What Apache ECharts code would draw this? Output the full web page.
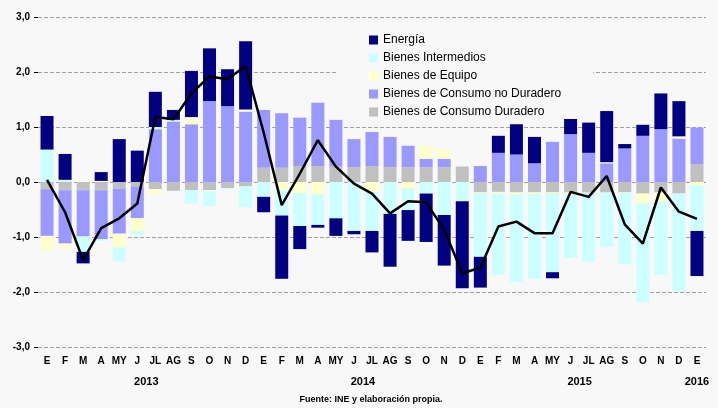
<!DOCTYPE html>
<html>
<head>
<meta charset="utf-8">
<script src="https://cdn.jsdelivr.net/npm/echarts@6/dist/echarts.min.js"></script>
<style>
  html, body { margin: 0; padding: 0; background: #f8f8f8; }
  #chart { width: 718px; height: 408px; }
</style>
</head>
<body>
<div id="chart"></div>
<script>
// meses ene-2013 .. ene-2016
const months = [
  'E', 'F', 'M', 'A', 'MY', 'J', 'JL', 'AG', 'S', 'O', 'N', 'D',
  'E', 'F', 'M', 'A', 'MY', 'J', 'JL', 'AG', 'S', 'O', 'N', 'D',
  'E', 'F', 'M', 'A', 'MY', 'J', 'JL', 'AG', 'S', 'O', 'N', 'D',
  'E',
]
const years = ['2013', '2014', '2015', '2016']
const yTicks = { min: -3, max: 3, interval: 1 }

const energia = [
  0.61, 0.47, -0.21, 0.16, 0.78, 0.57, 0.64, 0.18, 0.84, 0.96, 0.67, 1.24,
  -0.28, -1.15, -0.42, -0.05, -0.32, -0.06, -0.39, -0.96, -0.56, -0.88, -0.92, -1.58,
  -0.56, 0.31, 0.55, 0.48, -0.11, 0.30, 0.55, 0.93, 0.08, 0.20, 0.65, 0.64,
  -0.82,
]
const intermedios = [
  0.59, 0.04, -0.28, -0.03, -0.25, -0.08, 0.04, 0.03, -0.24, -0.27, -0.02, -0.38,
  -0.27, -0.46, -0.60, -0.56, -0.66, -0.89, -0.71, -0.58, -0.39, -0.21, -0.60, -0.35,
  -1.15, -1.48, -1.59, -1.54, -1.43, -1.17, -1.26, -0.99, -1.30, -1.80, -1.34, -1.78,
  -0.83,
]
const equipo = [
  -0.27, -0.09, 0.02, 0.02, -0.25, -0.23, -0.09, 0, 0.13, -0.02, 0, 0.04,
  0, -0.15, -0.20, -0.22, 0, 0, -0.18, 0, -0.12, 0.24, 0.17, 0,
  -0.02, -0.03, -0.04, -0.03, -0.02, -0.02, 0, 0.02, -0.01, -0.18, -0.16, 0.04,
  -0.06,
]
const noDuradero = [
  -0.85, -0.97, -0.84, -0.89, -0.82, -0.58, 0.96, 1.10, 1.05, 1.47, 1.38, 1.28,
  1.05, 0.99, 0.88, 1.15, 0.85, 0.51, 0.62, 0.55, 0.39, 0.15, 0.15, 0,
  0.29, 0.53, 0.50, 0.34, 0.73, 0.87, 0.53, 0.34, 0.61, 0.84, 0.96, 0.79,
  0.67,
]
const duradero = [
  -0.13, -0.15, -0.15, -0.15, -0.12, -0.08, -0.13, -0.16, -0.15, -0.15, -0.11, -0.08,
  0.26, 0.26, 0.29, 0.29, 0.28, 0.27, 0.29, 0.27, 0.27, 0.27, 0.27, 0.28,
  -0.19, -0.18, -0.19, -0.19, -0.19, -0.19, -0.19, -0.19, -0.19, -0.21, -0.19, -0.21,
  0.32,
]
// indice general
const total = [
  0.04, -0.55, -1.42, -0.84, -0.66, -0.39, 1.18, 1.14, 1.61, 1.92, 1.87, 2.11,
  0.90, -0.42, 0.15, 0.76, 0.28, -0.03, -0.21, -0.57, -0.35, -0.37, -0.87, -1.66,
  -1.56, -0.81, -0.72, -0.93, -0.93, -0.18, -0.27, 0.11, -0.77, -1.12, -0.10, -0.54,
  -0.67,
]

const font = 'Liberation Sans, Arial, sans-serif'

// orden de apilado: el primero queda junto al cero
const barDefs = [
  { name: 'Bienes de Consumo Duradero', data: duradero, color: '#c0c0c0' },
  { name: 'Bienes de Consumo no Duradero', data: noDuradero, color: '#9999ff' },
  { name: 'Bienes de Equipo', data: equipo, color: '#ffffcc' },
  { name: 'Bienes Intermedios', data: intermedios, color: '#ccffff' },
  { name: 'Energía', data: energia, color: '#000080' },
]

const series = barDefs.map(d => ({
  name: d.name,
  type: 'bar',
  stack: 'total',
  barWidth: 13,
  itemStyle: { color: d.color },
  data: d.data,
}))
series.push({
  name: 'Total',
  type: 'line',
  data: total,
  symbol: 'none',
  z: 5,
  lineStyle: { color: '#000', width: 2.5 },
})

const chart = echarts.init(document.getElementById('chart'))
chart.setOption({
  backgroundColor: '#f8f8f8',
  animation: false,
  grid: { left: 38, right: 12, top: 17, bottom: 61 },
  legend: {
    data: barDefs.map(d => d.name).reverse(),
    orient: 'vertical',
    left: 336,
    top: 29,
    padding: [4, 32, 0, 33],
    itemGap: 4,
    itemWidth: 9,
    itemHeight: 9,
    icon: 'rect',
    backgroundColor: '#f8f8f8',
    textStyle: { fontFamily: font, fontSize: 12, color: '#000', lineHeight: 14 },
  },
  xAxis: {
    type: 'category',
    data: months,
    axisLine: { show: false },
    axisTick: { show: false },
    axisLabel: { interval: 0, margin: 9, fontFamily: font, fontSize: 10, fontWeight: 'bold', color: '#000' },
  },
  yAxis: {
    type: 'value',
    ...yTicks,
    axisLine: { show: false },
    axisTick: { show: true, length: 4, lineStyle: { color: '#000' } },
    axisLabel: {
      margin: 8,
      fontFamily: font,
      fontSize: 10,
      fontWeight: 'bold',
      color: '#000',
      formatter: v => v.toFixed(1).replace('.', ','),
    },
    splitLine: { lineStyle: { color: '#a0a0a0', type: [4, 2] } },
  },
  series,
})

// etiquetas de año centradas bajo sus meses
const px = i => chart.convertToPixel({ xAxisIndex: 0 }, i)
const graphics = years.map((y, k) => {
  const first = k * 12
  const last = Math.min(first + 11, months.length - 1)
  return {
    type: 'text',
    x: (px(first) + px(last)) / 2,
    y: 382,
    style: { text: y, fontFamily: font, fontSize: 11, fontWeight: 'bold', fill: '#000', align: 'center', verticalAlign: 'middle' },
  }
})
graphics.push({
  type: 'text',
  x: 371,
  y: 400,
  style: { text: 'Fuente: INE y elaboración propia.', fontFamily: font, fontSize: 9, fontWeight: 'bold', fill: '#000', align: 'center', verticalAlign: 'middle' },
})
chart.setOption({ graphic: graphics })
</script>
</body>
</html>
